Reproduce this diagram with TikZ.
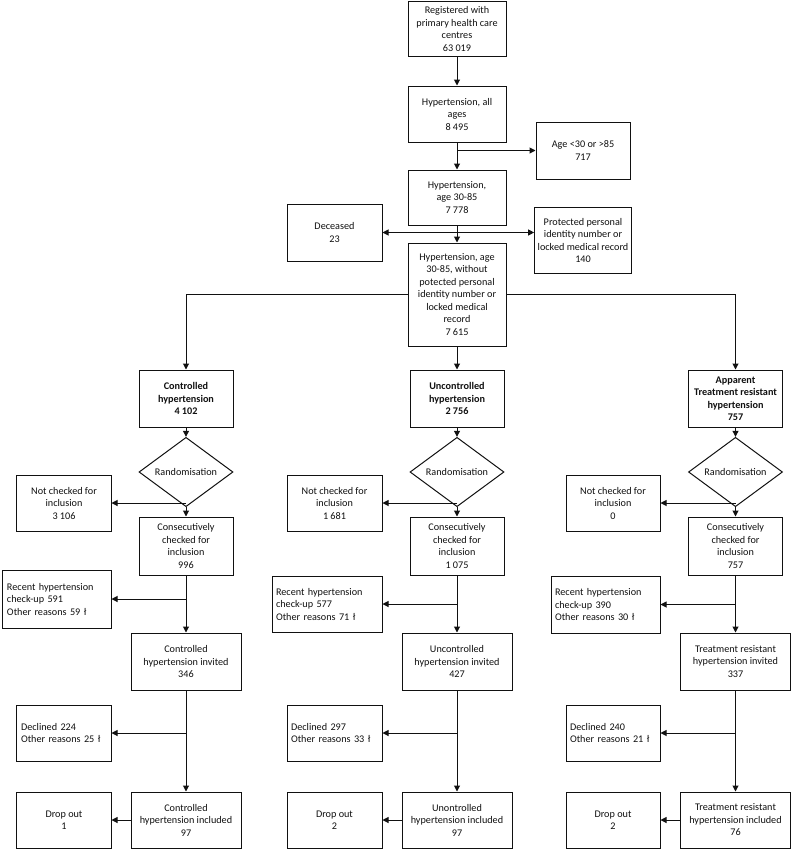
\documentclass[tikz,border=0pt]{standalone}
\usepackage{fontspec}
\setmainfont{Carlito}
\usetikzlibrary{arrows.meta,shapes.geometric}
\definecolor{ink}{HTML}{111111}
\newcommand{\boxfont}{\fontsize{10.2bp}{12.5bp}\selectfont}
\tikzset{
  basebox/.style={draw=ink,line width=1bp,fill=white,align=center,font=\boxfont,text=ink,inner sep=3bp},
  headbox/.style={basebox,font=\boxfont\bfseries},
  notebox/.style={basebox,align=left,inner sep=4bp},
  decision/.style={basebox,diamond,inner sep=0pt},
  wh/.style 2 args={minimum width=#1bp,minimum height=#2bp},
  arrow/.style={-{Triangle[length=6bp,width=6bp]},line width=1bp,draw=ink},
  twoway/.style={arrow,{Triangle[length=6bp,width=6bp]}-{Triangle[length=6bp,width=6bp]}}
}

\begin{document}
\begin{tikzpicture}[x=1bp,y=-1bp]
  \useasboundingbox (0,0) rectangle (792,850);

  \node[basebox,wh={98}{54}] (reg) at (457,29) {Registered with\\primary health care\\centres\\63 019};
  \node[basebox,wh={98}{56}] (allages) at (457,114) {Hypertension, all\\ages\\8 495};
  \node[basebox,wh={98}{55}] (age3085) at (457,197.5) {Hypertension,\\age 30-85\\7 778};
  \node[basebox,wh={98}{103}] (cohort) at (457,294.5) {Hypertension, age\\30-85, without\\potected personal\\identity number or\\locked medical\\record\\7 615};
  \node[basebox,wh={94}{57}] (agex) at (583,150.5) {Age <30 or >85\\717};
  \node[basebox,wh={94}{66}] (protected) at (583,240.5) {Protected personal\\identity number or\\locked medical record\\140};
  \node[basebox,wh={95}{57}] (deceased) at (334.5,232.5) {Deceased\\23};

  \draw[arrow] (reg) -- (allages);
  \draw[arrow] (allages) -- (age3085);
  \draw[arrow] (allages.south |- agex.west) -- (agex.west);
  \draw[arrow] (age3085) -- (cohort);
  \draw[twoway] (deceased.east) -- (deceased.east -| protected.west);

  \node[headbox,wh={94}{57}] (head1) at (186,398.5) {Controlled\\hypertension\\4 102};
  \node[headbox,wh={94}{57}] (head2) at (457,398.5) {Uncontrolled\\hypertension\\2 756};
  \node[headbox,wh={94}{57}] (head3) at (735.5,398.5) {Apparent\\Treatment resistant\\hypertension\\757};

  \draw[arrow] (cohort) -- (head2);
  \draw[arrow] (cohort.west) -| (head1);
  \draw[arrow] (cohort.east) -| (head3);

  \foreach \i/\x in {1/186,2/457,3/735.5} {
    \node[decision,wh={94}{56}] (rand\i) at (\x,472) {Randomisation};
  }

  \node[basebox,wh={94}{56}] (skip1) at (64,503) {Not checked for\\inclusion\\3 106};
  \node[basebox,wh={95}{56}] (skip2) at (334.5,503) {Not checked for\\inclusion\\1 681};
  \node[basebox,wh={94}{56}] (skip3) at (613,503) {Not checked for\\inclusion\\0};

  \node[basebox,wh={94}{58}] (cons1) at (186,546) {Consecutively\\checked for\\inclusion\\996};
  \node[basebox,wh={94}{58}] (cons2) at (457,546) {Consecutively\\checked for\\inclusion\\1 075};
  \node[basebox,wh={94}{58}] (cons3) at (735.5,546) {Consecutively\\checked for\\inclusion\\757};

  \node[notebox,text width=100bp,minimum height=58bp] (recent1) at (57,599) {Recent hypertension\\check-up 591\\Other reasons 59 ł};
  \node[notebox,text width=102bp,minimum height=56bp] (recent2) at (327,604) {Recent hypertension\\check-up 577\\Other reasons 71 ł};
  \node[notebox,text width=101bp,minimum height=57bp] (recent3) at (605.5,604.5) {Recent hypertension\\check-up 390\\Other reasons 30 ł};

  \node[basebox,wh={110}{57}] (inv1) at (186,661.5) {Controlled\\hypertension  invited\\346};
  \node[basebox,wh={110}{57}] (inv2) at (457,661.5) {Uncontrolled\\hypertension invited\\427};
  \node[basebox,wh={110}{57}] (inv3) at (735.5,661.5) {Treatment resistant\\hypertension invited\\337};

  \node[notebox,text width=86bp,minimum height=56bp] (decl1) at (64,733) {Declined 224\\Other reasons 25 ł};
  \node[notebox,text width=87bp,minimum height=56bp] (decl2) at (334.5,733) {Declined 297\\Other reasons 33 ł};
  \node[notebox,text width=86bp,minimum height=56bp] (decl3) at (613,733) {Declined 240\\Other reasons 21 ł};

  \node[basebox,wh={110}{56}] (incl1) at (186,820) {Controlled\\hypertension included\\97};
  \node[basebox,wh={110}{56}] (incl2) at (457,820) {Unontrolled\\hypertension included\\97};
  \node[basebox,wh={110}{56}] (incl3) at (735.5,820) {Treatment resistant\\hypertension included\\76};

  \node[basebox,wh={94}{56}] (drop1) at (64,820) {Drop out\\1};
  \node[basebox,wh={95}{56}] (drop2) at (334.5,820) {Drop out\\2};
  \node[basebox,wh={94}{56}] (drop3) at (613,820) {Drop out\\2};

  \foreach \i in {1,2,3} {
    \draw[arrow] (head\i) -- (rand\i);
    \draw[arrow] (rand\i) -- (cons\i);
    \draw[arrow] (rand\i.south |- skip\i.east) -- (skip\i.east);
    \draw[arrow] (cons\i) -- (inv\i);
    \draw[arrow] (cons\i.south |- recent\i.east) -- (recent\i.east);
    \draw[arrow] (inv\i) -- (incl\i);
    \draw[arrow] (inv\i.south |- decl\i.east) -- (decl\i.east);
    \draw[arrow] (incl\i) -- (drop\i);
  }
\end{tikzpicture}
\end{document}
